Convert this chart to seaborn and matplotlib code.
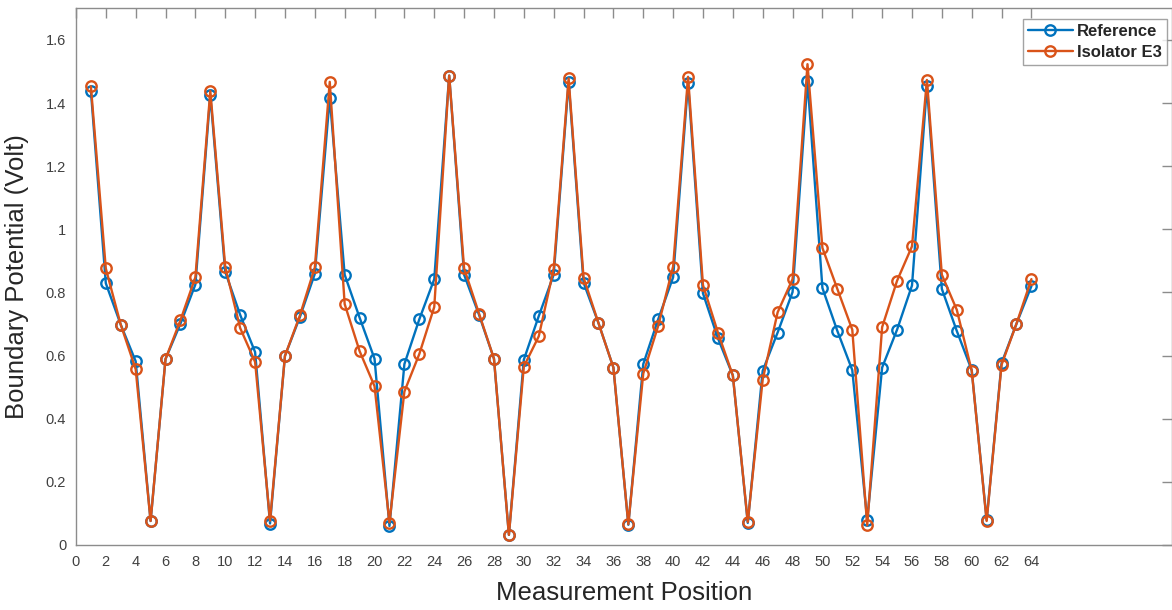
import numpy as np
import pandas as pd
import matplotlib
matplotlib.use("Agg")
import matplotlib.pyplot as plt
import seaborn as sns

# Data
position = list(range(1, 65))
reference = [1.439, 0.829, 0.698, 0.582, 0.076, 0.589, 0.701, 0.825,
             1.425, 0.865, 0.729, 0.611, 0.068, 0.599, 0.722, 0.859,
             1.416, 0.856, 0.720, 0.590, 0.060, 0.573, 0.715, 0.842,
             1.487, 0.856, 0.729, 0.590, 0.032, 0.587, 0.725, 0.856,
             1.467, 0.831, 0.703, 0.562, 0.064, 0.573, 0.715, 0.848,
             1.464, 0.797, 0.655, 0.537, 0.070, 0.552, 0.673, 0.801,
             1.470, 0.814, 0.678, 0.554, 0.079, 0.562, 0.682, 0.822,
             1.453, 0.811, 0.678, 0.554, 0.079, 0.576, 0.701, 0.820]
isolator_e3 = [1.453, 0.876, 0.698, 0.557, 0.076, 0.589, 0.712, 0.848,
               1.438, 0.881, 0.687, 0.580, 0.077, 0.599, 0.727, 0.879,
               1.467, 0.763, 0.614, 0.503, 0.071, 0.486, 0.605, 0.754,
               1.487, 0.876, 0.733, 0.590, 0.032, 0.565, 0.661, 0.874,
               1.478, 0.847, 0.703, 0.562, 0.066, 0.543, 0.694, 0.882,
               1.483, 0.823, 0.673, 0.537, 0.073, 0.524, 0.737, 0.842,
               1.523, 0.941, 0.811, 0.682, 0.062, 0.690, 0.837, 0.946,
               1.473, 0.856, 0.745, 0.552, 0.076, 0.571, 0.701, 0.842]

xticks = list(range(0, 65, 2))
yticks = [0, 0.2, 0.4, 0.6, 0.8, 1.0, 1.2, 1.4, 1.6]
ytick_labels = ["0", "0.2", "0.4", "0.6", "0.8", "1", "1.2", "1.4", "1.6"]

sns.set_style("white")
plt.rcParams['font.family'] = ['Liberation Sans', 'DejaVu Sans']

fig = plt.figure(figsize=(11.72, 6.10), dpi=100)
ax = fig.add_axes([0.0648, 0.1066, 0.935, 0.8798])

blue = '#0072BD'
orange = '#D95319'

sns.lineplot(x=position, y=reference, ax=ax, color=blue, linewidth=1.7,
             marker='o', markersize=7.5, markerfacecolor='none',
             markeredgecolor=blue, markeredgewidth=1.7, label='Reference')
sns.lineplot(x=position, y=isolator_e3, ax=ax, color=orange, linewidth=1.7,
             marker='o', markersize=7.5, markerfacecolor='none',
             markeredgecolor=orange, markeredgewidth=1.7, label='Isolator E3')

ax.set_xlim(0, 73.4)
ax.set_ylim(0, 1.7)
ax.set_xticks(xticks)
ax.set_yticks(yticks)
ax.set_yticklabels(ytick_labels)

for s in ax.spines.values():
    s.set_color('#8c8c8c')
    s.set_linewidth(1.0)
ax.tick_params(direction='in', length=7, width=1.0, color='#8c8c8c',
               top=True, right=True, labelsize=10.5, labelcolor='#404040',
               pad=7)

ax.set_xlabel('Measurement Position', fontsize=18.5, labelpad=9)
ax.set_ylabel('Boundary Potential (Volt)', fontsize=18.5, labelpad=12)

leg = ax.legend(loc='upper right', bbox_to_anchor=(0.9954, 0.9795),
                prop={'weight': 'bold', 'size': 12},
                frameon=True, fancybox=False, edgecolor='#8c8c8c',
                borderaxespad=0, handlelength=2.7, borderpad=0.3,
                labelspacing=0.35, handletextpad=0.25)
leg.get_frame().set_linewidth(1.0)

plt.savefig('out.png', dpi=100)
plt.close()
